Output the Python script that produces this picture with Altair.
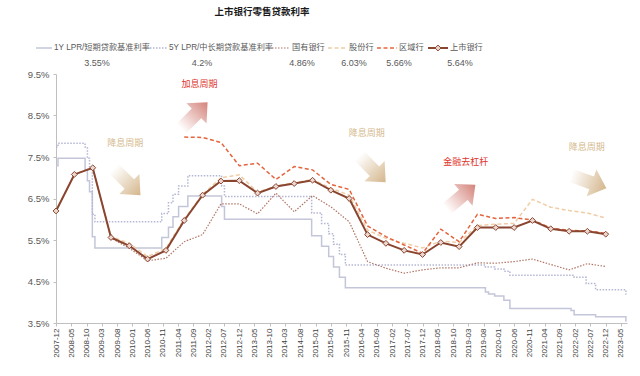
import altair as alt
import pandas as pd

# ---------------- data ----------------
half_year_dates = [
    "2007-12-01", "2008-06-01", "2008-12-01", "2009-06-01", "2009-12-01",
    "2010-06-01", "2010-12-01", "2011-06-01", "2011-12-01", "2012-06-01",
    "2012-12-01", "2013-06-01", "2013-12-01", "2014-06-01", "2014-12-01",
    "2015-06-01", "2015-12-01", "2016-06-01", "2016-12-01", "2017-06-01",
    "2017-12-01", "2018-06-01", "2018-12-01", "2019-06-01", "2019-12-01",
    "2020-06-01", "2020-12-01", "2021-06-01", "2021-12-01", "2022-06-01",
    "2022-12-01",
]
listed_banks = [6.20, 7.08, 7.24, 5.56, 5.36, 5.04, 5.25, 5.97, 6.58, 6.92, 6.93,
                6.63, 6.79, 6.86, 6.94, 6.70, 6.50, 5.63, 5.42, 5.25, 5.15, 5.44,
                5.34, 5.80, 5.80, 5.80, 5.97, 5.77, 5.71, 5.71, 5.64]
state_owned = [6.20, 7.08, 7.24, 5.55, 5.30, 5.00, 5.06, 5.46, 5.63, 6.37, 6.37,
               6.13, 6.63, 6.18, 6.57, 6.30, 5.94, 4.98, 4.82, 4.70, 4.78, 4.83,
               4.83, 4.95, 4.94, 4.98, 5.04, 4.91, 4.78, 4.93, 4.86]
joint_stock = [6.20, 7.08, 7.24, 5.58, 5.42, 5.10, 5.30, 6.00, 6.60, 7.00, 7.07,
               6.65, 6.80, 6.88, 6.96, 6.75, 6.58, 5.74, 5.54, 5.42, 5.31, 5.47,
               5.44, 5.85, 5.88, 5.90, 6.48, 6.29, 6.21, 6.15, 6.03]
regional = [None, None, None, None, None, None, None,
            7.98, 7.97, 7.85, 7.29, 7.35, 6.96, 7.27, 7.19, 6.84, 6.72, 5.84,
            5.58, 5.38, 5.18, 5.76, 5.46, 6.12, 6.02, 6.04, 5.98, 5.79, 5.73,
            5.72, 5.66]

lpr1_dates = ["2007-12-01", "2007-12-21", "2008-09-16", "2008-10-09", "2008-10-30",
              "2008-11-27", "2008-12-23", "2010-10-20", "2010-12-26", "2011-02-09",
              "2011-04-06", "2011-07-07", "2012-06-08", "2012-07-06", "2014-11-22",
              "2015-03-01", "2015-05-11", "2015-06-28", "2015-08-26", "2015-10-24",
              "2019-08-20", "2019-09-20", "2019-11-20", "2020-02-20", "2020-04-20",
              "2021-12-20", "2022-01-20", "2022-08-22", "2023-06-20", "2023-06-26"]
lpr1_vals = [7.29, 7.47, 7.20, 6.93, 6.66, 5.58, 5.31, 5.56, 5.81, 6.06, 6.31, 6.56,
             6.31, 6.00, 5.60, 5.35, 5.10, 4.85, 4.60, 4.35, 4.25, 4.20, 4.15, 4.05,
             3.85, 3.80, 3.70, 3.65, 3.55, 3.55]
lpr5_dates = ["2007-12-01", "2007-12-21", "2008-09-16", "2008-10-09", "2008-10-30",
              "2008-11-27", "2008-12-23", "2010-10-20", "2010-12-26", "2011-02-09",
              "2011-04-06", "2011-07-07", "2012-06-08", "2012-07-06", "2014-11-22",
              "2015-03-01", "2015-05-11", "2015-06-28", "2015-08-26", "2015-10-24",
              "2019-08-20", "2019-11-20", "2020-02-20", "2020-04-20", "2022-01-20",
              "2022-05-20", "2022-08-22", "2023-06-20", "2023-06-26"]
lpr5_vals = [7.74, 7.83, 7.74, 7.47, 7.20, 6.12, 5.94, 6.14, 6.40, 6.60, 6.80, 7.05,
             6.80, 6.55, 6.15, 5.90, 5.65, 5.40, 5.15, 4.90, 4.85, 4.80, 4.75, 4.65,
             4.60, 4.45, 4.30, 4.20, 4.20]

tick_labels = ["2007-12", "2008-05", "2008-10", "2009-03", "2009-08", "2010-01",
               "2010-06", "2010-11", "2011-04", "2011-09", "2012-02", "2012-07",
               "2012-12", "2013-05", "2013-10", "2014-03", "2014-08", "2015-01",
               "2015-06", "2015-11", "2016-04", "2016-09", "2017-02", "2017-07",
               "2017-12", "2018-05", "2018-10", "2019-03", "2019-08", "2020-01",
               "2020-06", "2020-11", "2021-04", "2021-09", "2022-02", "2022-07",
               "2022-12", "2023-05"]
y_ticks = [3.5, 4.5, 5.5, 6.5, 7.5, 8.5, 9.5]

series_names = ["1Y LPR/短期贷款基准利率", "5Y LPR/中长期贷款基准利率", "国有银行",
                "股份行", "区域行", "上市银行"]
series_latest = ["3.55%", "4.2%", "4.86%", "6.03%", "5.66%", "5.64%"]

note_texts = ["降息周期", "加息周期", "降息周期", "金融去杠杆", "降息周期"]
note_dates = ["2009-10-20", "2011-11-01", "2016-05-25", "2019-02-05", "2022-05-25"]
note_vals = [7.84, 9.26, 8.08, 7.38, 7.74]
note_kind = ["down", "up", "down", "up", "down"]

arrow_dates = ["2009-11-10", "2011-09-10", "2016-07-20", "2018-12-20", "2022-06-15"]
arrow_vals = [6.90, 8.50, 7.21, 6.54, 6.90]
arrow_angles = [45, 315, 45, 320, 20]
arrow_kind = ["down", "up", "down", "up", "down"]

# ---------------- styling ----------------
CJK = "Noto Sans CJK SC"
MIX = "Liberation Sans, Noto Sans CJK SC"
LAT = "Liberation Sans"
TAN = "#D5BA8E"
RED = "#E0342C"
styles = [
    dict(color="#C3C6D9", dash=None, width=1.5),
    dict(color="#B3B7D4", dash=[1.5, 1.5], width=1.5),
    dict(color="#B07565", dash=[1.5, 1.5], width=1.2),
    dict(color="#F0CDA6", dash=[4, 2.5], width=1.5),
    dict(color="#E3653F", dash=[4, 2.5], width=1.5),
    dict(color="#8A4530", dash=None, width=2.0),
]

PLOT_L, PLOT_T = 56, 74
W, H = 571, 249


def ms(s):
    return int(pd.Timestamp(s).value // 10**6)


x_domain = [ms("2007-12-01"), ms("2023-07-01")]
tick_ms = [ms(t + "-01") for t in tick_labels]


def xenc():
    return alt.X(
        "date:T",
        title=None,
        scale=alt.Scale(type="utc", domain=x_domain),
        axis=alt.Axis(
            values=tick_ms,
            labelExpr="utcFormat(datum.value, '%Y-%m')",
            labelAngle=270,
            labelFont=LAT,
            labelFontSize=8,
            labelColor="#404040",
            labelOverlap=False,
            labelFlush=False,
            labelPadding=2,
            tickSize=3,
            tickColor="#BFBFBF",
            domainColor="#BFBFBF",
            grid=False,
        ),
    )


def yenc():
    return alt.Y(
        "v:Q",
        title=None,
        scale=alt.Scale(domain=[3.5, 9.5], nice=False, zero=False),
        axis=alt.Axis(
            values=y_ticks,
            labelExpr="format(datum.value, '.1f') + '%'",
            labelFont=LAT,
            labelFontSize=9.5,
            labelColor="#595959",
            labelPadding=4,
            tickSize=3,
            tickColor="#BFBFBF",
            domainColor="#BFBFBF",
            grid=False,
        ),
    )


def line_props(i, **kw):
    st = styles[i]
    args = dict(color=st["color"], strokeWidth=st["width"], **kw)
    if st["dash"]:
        args["strokeDash"] = st["dash"]
    return args


layers = []

# step benchmark lines
df1 = pd.DataFrame({"date": lpr1_dates, "v": lpr1_vals})
df5 = pd.DataFrame({"date": lpr5_dates, "v": lpr5_vals})
layers.append(alt.Chart(df1).mark_line(**line_props(0, interpolate="step-after")).encode(x=xenc(), y=yenc()))
layers.append(alt.Chart(df5).mark_line(**line_props(1, interpolate="step-after")).encode(x=xenc(), y=yenc()))

bank_series = [state_owned, joint_stock, regional, listed_banks]
for j, vals in enumerate(bank_series):
    d = pd.DataFrame({"date": half_year_dates, "v": vals}).dropna()
    layers.append(alt.Chart(d).mark_line(**line_props(j + 2)).encode(x=xenc(), y=yenc()))

dl = pd.DataFrame({"date": half_year_dates, "v": listed_banks})
layers.append(
    alt.Chart(dl).mark_point(shape="diamond", size=34, filled=True, fill="#ECD8D0",
                             stroke="#8A4530", strokeWidth=1, opacity=1)
    .encode(x=xenc(), y=yenc())
)

# annotation arrows
ARROW = "M-1,-0.36L0.16,-0.36L0.16,-0.76L1,0L0.16,0.76L0.16,0.36L-1,0.36Z"
arr = pd.DataFrame({"date": arrow_dates, "v": arrow_vals, "ang": arrow_angles, "kind": arrow_kind})


def grad(c):
    return alt.LinearGradient(
        gradient="linear",
        stops=[alt.GradientStop(offset=0, color="#FFFFFF"),
               alt.GradientStop(offset=1, color=c)],
        x1=0, x2=1, y1=0, y2=0,
    )


for kind, c in [("down", "#D4B68C"), ("up", "#D4837A")]:
    layers.append(
        alt.Chart(arr[arr["kind"] == kind]).mark_point(
            shape=ARROW, size=1400, filled=True, fill=grad(c), strokeWidth=0, opacity=1
        ).encode(x=xenc(), y=yenc(), angle=alt.Angle("ang:Q", scale=None))
    )

notes = pd.DataFrame({"date": note_dates, "v": note_vals, "t": note_texts,
                      "c": [TAN if k == "down" else RED for k in note_kind]})
layers.append(
    alt.Chart(notes).mark_text(font=CJK, fontSize=9, align="center", baseline="middle")
    .encode(x=xenc(), y=yenc(), text="t:N", color=alt.Color("c:N", scale=None))
)

# ---------------- title & legend (layout) ----------------
one = pd.DataFrame({"k": [0]})


def px(x):
    return x - PLOT_L


def py(y):
    return y - PLOT_T


layers.append(
    alt.Chart(one).mark_text(font=CJK, fontSize=9.5, fontWeight="bold", color="#1A1A1A",
                             align="center", baseline="middle")
    .encode(x=alt.value(px(262)), y=alt.value(py(12)), text=alt.value("上市银行零售贷款利率"))
)

leg_sym = [(36, 52), (150, 167), (272, 290), (328, 347), (377, 397), (428, 448)]
leg_val_x = [97, 202, 302, 354, 399, 460]
LEG_Y, VAL_Y = 48, 63
for i, name in enumerate(series_names):
    rk = line_props(i)
    x1, x2 = leg_sym[i]
    layers.append(
        alt.Chart(one).mark_rule(**rk).encode(
            x=alt.value(px(x1)), x2=alt.value(px(x2)), y=alt.value(py(LEG_Y)))
    )
    layers.append(
        alt.Chart(one).mark_text(font=MIX, fontSize=8.2, color="#595959", align="left",
                                 baseline="middle")
        .encode(x=alt.value(px(x2 + 2)), y=alt.value(py(LEG_Y)), text=alt.value(name))
    )
    layers.append(
        alt.Chart(one).mark_text(font=LAT, fontSize=9, color="#595959", align="center",
                                 baseline="middle")
        .encode(x=alt.value(px(leg_val_x[i])), y=alt.value(py(VAL_Y)),
                text=alt.value(series_latest[i]))
    )

layers.append(
    alt.Chart(one).mark_point(shape="diamond", size=34, filled=True, fill="#ECD8D0",
                              stroke="#8A4530", strokeWidth=1, opacity=1)
    .encode(x=alt.value(px(438)), y=alt.value(py(LEG_Y)))
)

chart = alt.layer(*layers).properties(
    width=W, height=H,
    autosize=alt.AutoSizeParams(type="none"),
    padding={"left": PLOT_L, "top": PLOT_T, "right": 640 - PLOT_L - W, "bottom": 376 - PLOT_T - H},
    background="white",
).configure_view(stroke=None)

chart.save("out.html", embed_options={"renderer": "svg", "actions": False})
